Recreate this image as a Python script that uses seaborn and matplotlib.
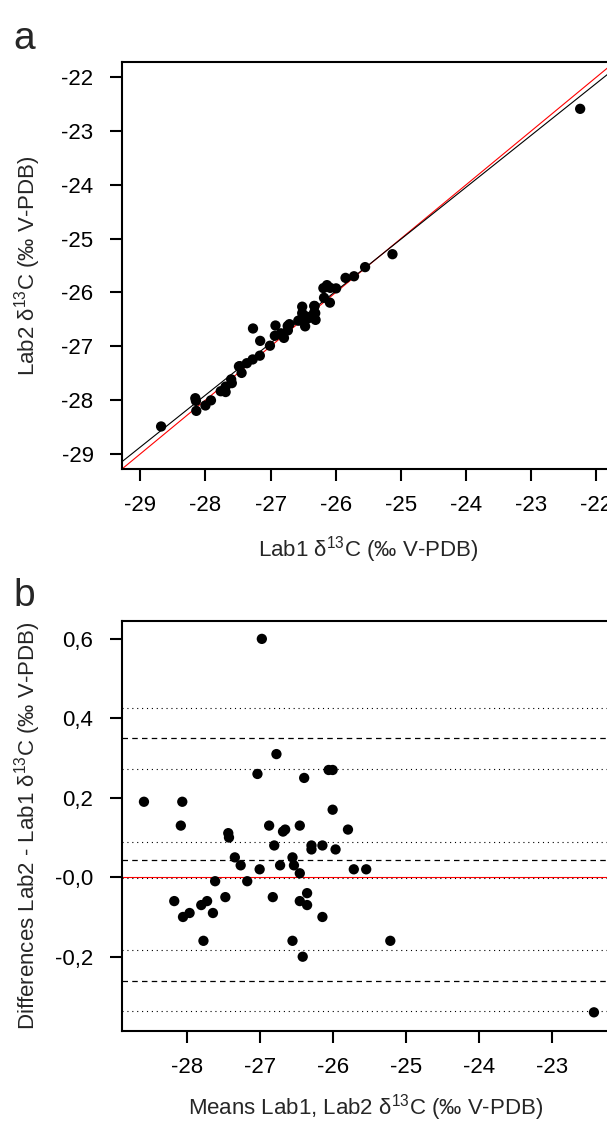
import matplotlib
matplotlib.use("Agg")
import matplotlib.pyplot as plt
import seaborn as sns
import numpy as np
import pandas as pd

# ---- data ----
means = [-28.585, -28.06, -28.08, -27.43, -27.42, -26.97, -27.03, -26.77, -26.87, -26.68,
         -26.65, -26.45, -26.39, -26.055, -26.0, -26.0, -25.79, -28.17, -28.05, -27.96,
         -27.77, -27.80, -27.72, -27.64, -27.61, -27.47, -27.34, -27.26, -27.17, -27.00,
         -26.82, -26.80, -26.72, -26.55, -26.53, -26.55, -26.45, -26.45, -26.35, -26.35,
         -26.41, -26.29, -26.29, -26.14, -26.14, -25.96, -25.71, -25.54, -25.21, -22.42]
diffs = [0.19, 0.19, 0.13, 0.111, 0.10, 0.60, 0.26, 0.31, 0.13, 0.115,
         0.12, 0.13, 0.25, 0.27, 0.27, 0.17, 0.12, -0.06, -0.10, -0.09,
         -0.16, -0.07, -0.06, -0.09, -0.01, -0.05, 0.05, 0.03, -0.01, 0.02,
         -0.05, 0.08, 0.03, 0.05, 0.03, -0.16, 0.01, -0.06, -0.04, -0.07,
         -0.20, 0.08, 0.07, 0.08, -0.10, 0.07, 0.02, 0.02, -0.16, -0.34]
lab1 = [m - d / 2 for m, d in zip(means, diffs)]
lab2 = [m + d / 2 for m, d in zip(means, diffs)]

fit_slope = 0.9656
fit_intercept = -0.871

mean_diff = 0.044
limits = [0.351, -0.262]
ci_lines = [0.425, 0.273, 0.089, -0.001, -0.183, -0.336]

a_ticks = [-29, -28, -27, -26, -25, -24, -23, -22]
b_xticks = [-28, -27, -26, -25, -24, -23]
b_yticks = [0.6, 0.4, 0.2, 0.0, -0.2]
b_yticklabels = ["0,6", "0,4", "0,2", "-0,0", "-0,2"]

# ---- style ----
sns.set_style("ticks")
plt.rcParams['font.family'] = ['Liberation Sans', 'DejaVu Sans']
plt.rcParams['mathtext.fontset'] = 'custom'
plt.rcParams['mathtext.rm'] = 'Liberation Sans'
plt.rcParams['mathtext.it'] = 'Liberation Sans:italic'
plt.rcParams['mathtext.bf'] = 'Liberation Sans:bold'

W, H = 607, 1126
fig = plt.figure(figsize=(W / 100, H / 100), dpi=100)
fig.patch.set_facecolor('white')

def box(l, t, r, b):
    return [l / W, 1 - b / H, (r - l) / W, (b - t) / H]

FS = 16

def style_axes(ax):
    for sp in ax.spines.values():
        sp.set_visible(True)
        sp.set_color('black')
        sp.set_linewidth(1.5)
    ax.tick_params(axis='both', direction='out', length=8.5, width=1.5,
                   color='black', labelsize=FS, labelcolor='black')
    ax.tick_params(axis='x', pad=10.5)
    ax.tick_params(axis='y', pad=12)
    ax.set_facecolor('white')
    ax.grid(False)

# ---- panel a ----
A = (122, 62, 614.7, 469)
axa = fig.add_axes(box(*A))
style_axes(axa)
dfa = pd.DataFrame({'lab1': lab1, 'lab2': lab2})
axa.axline((0, 0), slope=1, color='#ff0000', lw=0.8, zorder=2)
axa.axline((0, fit_intercept), slope=fit_slope, color='black', lw=0.8, zorder=2)
sns.scatterplot(data=dfa, x='lab1', y='lab2', color='black', s=55, edgecolor='none',
                linewidth=0, legend=False, ax=axa, zorder=3)
axa.set_xlim(-29.28, -21.72)
axa.set_ylim(-29.28, -21.72)
axa.set_xticks(a_ticks)
axa.set_yticks(a_ticks)
axa.set_xticklabels([str(t) for t in a_ticks])
axa.set_yticklabels([str(t) for t in a_ticks])
axa.set_xlabel('Lab1 δ$^{13}$C (‰ V-PDB)', fontsize=FS)
axa.set_ylabel('Lab2 δ$^{13}$C (‰ V-PDB)', fontsize=FS)
axa.yaxis.set_label_coords((28 - A[0]) / (A[2] - A[0]), 0.5)
axa.xaxis.set_label_coords(0.5, 1 - (550 - A[1]) / (A[3] - A[1]))
axa.xaxis.label.set_va('center')
axa.yaxis.label.set_va('center')

# ---- panel b ----
B = (121.7, 621, 610, 1031)
axb = fig.add_axes(box(*B))
style_axes(axb)
dfb = pd.DataFrame({'mean': means, 'diff': diffs})
axb.axhline(0, color='#ff0000', lw=0.8, zorder=1)
for v in [mean_diff] + limits:
    axb.axhline(v, color='black', lw=0.9, dashes=(4.4, 3.4), zorder=2)
for v in ci_lines:
    axb.axhline(v, color='black', lw=0.8, dashes=(1, 3.4), zorder=2)
sns.scatterplot(data=dfb, x='mean', y='diff', color='black', s=55, edgecolor='none',
                linewidth=0, legend=False, ax=axb, zorder=3)
axb.set_xlim(-28.89, -22.20)
axb.set_ylim(-0.387, 0.645)
axb.set_xticks(b_xticks)
axb.set_xticklabels([str(t) for t in b_xticks])
axb.set_yticks(b_yticks)
axb.set_yticklabels(b_yticklabels)
axb.set_xlabel('Means Lab1, Lab2 δ$^{13}$C (‰ V-PDB)', fontsize=FS)
axb.set_ylabel('Differences Lab2 - Lab1 δ$^{13}$C (‰ V-PDB)', fontsize=FS)
axb.yaxis.set_label_coords((28 - B[0]) / (B[2] - B[0]), 0.5)
axb.xaxis.set_label_coords(0.5, 1 - (1108 - B[1]) / (B[3] - B[1]))
axb.xaxis.label.set_va('center')
axb.yaxis.label.set_va('center')

# panel letters
fig.text(13 / W, 1 - 49 / H, 'a', fontsize=28, ha='left', va='baseline')
fig.text(13 / W, 1 - 606 / H, 'b', fontsize=28, ha='left', va='baseline')

fig.savefig('out.png', dpi=100, facecolor='white')
